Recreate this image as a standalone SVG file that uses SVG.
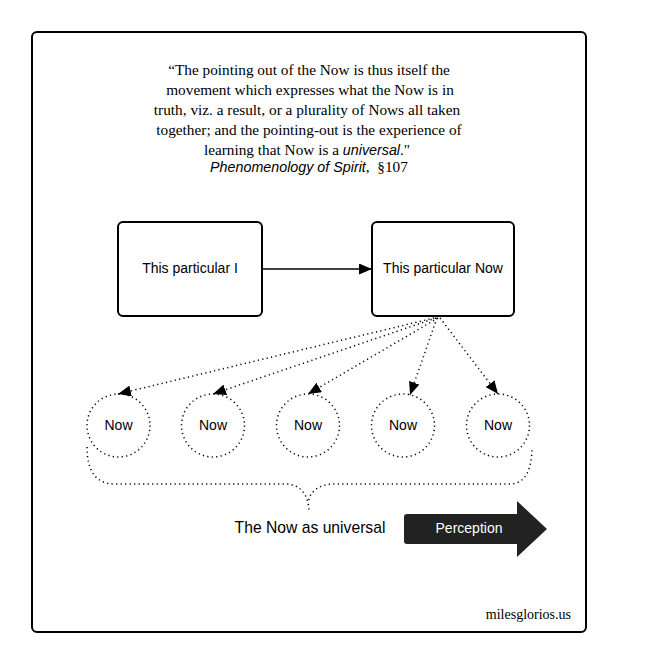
<svg xmlns="http://www.w3.org/2000/svg" width="656" height="672" viewBox="0 0 656 672">
<defs>
<style>
.frame{fill:#fff;stroke:#000;stroke-width:2}
.box{fill:#fff;stroke:#000;stroke-width:2}
.lbl{font-family:"Liberation Sans",Arial,sans-serif;font-size:14px;fill:#000;text-anchor:middle}
.quote{font-family:"Liberation Serif","Times New Roman",serif;font-size:15.3px;fill:#000;text-anchor:middle}
.it{font-family:"Liberation Sans",Arial,sans-serif;font-style:italic;font-size:14.3px}
.dot{fill:none;stroke:#000;stroke-width:1.5;stroke-dasharray:1.2 3.3}
.solid{fill:none;stroke:#000;stroke-width:1.6}
</style>
<marker id="ah" viewBox="0 0 13 11" refX="13" refY="5.5" markerUnits="userSpaceOnUse" markerWidth="13" markerHeight="11" orient="auto">
<path d="M0,0 L13,5.5 L0,11 z" fill="#000"/>
</marker>
</defs>
<rect width="656" height="672" fill="#fff"/>
<rect id="frame" class="frame" x="32" y="32" width="554" height="600" rx="5"/>
<g id="quote">
<text class="quote" x="309" y="75">“The pointing out of the Now is thus itself the</text>
<text class="quote" x="310" y="95">movement which expresses what the Now is in</text>
<text class="quote" x="307" y="115">truth, viz. a result, or a plurality of Nows all taken</text>
<text class="quote" x="309" y="135">together; and the pointing-out is the experience of</text>
<text class="quote" x="307" y="155">learning that Now is a <tspan class="it">universal</tspan>."</text>
<text class="quote" x="309" y="172"><tspan class="it">Phenomenology of Spirit</tspan>,&#160; §107</text>
</g>
<g id="connectors">
<line class="solid" x1="262" y1="269" x2="372" y2="269" marker-end="url(#ah)"/>
<line class="dot" x1="434" y1="318" x2="118" y2="394" marker-end="url(#ah)"/>
<line class="dot" x1="436" y1="318" x2="213" y2="394" marker-end="url(#ah)"/>
<line class="dot" x1="438" y1="318" x2="308" y2="394" marker-end="url(#ah)"/>
<line class="dot" x1="437" y1="318" x2="410" y2="395" marker-end="url(#ah)"/>
<line class="dot" x1="440" y1="318" x2="498" y2="394" marker-end="url(#ah)"/>
<path id="brace" class="dot" d="M87,447 C87,470 95,484 115,484 L285,484 C300,484 309,494 309,513 M309,500 C309,494 318,484 333,484 L510,484 C525,484 532,470 532,447"/>
</g>
<g id="node-i">
<rect class="box" x="118" y="222" width="144" height="94" rx="5"/>
<text class="lbl" x="190" y="273">This particular I</text>
</g>
<g id="node-now">
<rect class="box" x="372" y="222" width="142" height="94" rx="5"/>
<text class="lbl" x="443" y="273">This particular Now</text>
</g>
<g id="now1"><circle class="dot" cx="118.5" cy="425.5" r="31.5"/><text class="lbl" x="118.5" y="430">Now</text></g>
<g id="now2"><circle class="dot" cx="213" cy="425.5" r="31.5"/><text class="lbl" x="213" y="430">Now</text></g>
<g id="now3"><circle class="dot" cx="308" cy="425.5" r="31.5"/><text class="lbl" x="308" y="430">Now</text></g>
<g id="now4"><circle class="dot" cx="403" cy="425.5" r="31.5"/><text class="lbl" x="403" y="430">Now</text></g>
<g id="now5"><circle class="dot" cx="498" cy="425.5" r="31.5"/><text class="lbl" x="498" y="430">Now</text></g>
<g id="universal"><text class="lbl" x="310" y="533" style="font-size:15.7px">The Now as universal</text></g>
<g id="perception">
<path d="M407,514 L517,514 L517,501 L547,529 L517,557 L517,544 L407,544 Q404,544 404,541 L404,517 Q404,514 407,514 z" fill="#222"/>
<text class="lbl" x="469" y="533" style="fill:#fff">Perception</text>
</g>
<g id="credit"><text x="571" y="619" style="font-family:'Liberation Serif','Times New Roman',serif;font-size:14px;text-anchor:end">milesglorios.us</text></g>
</svg>
